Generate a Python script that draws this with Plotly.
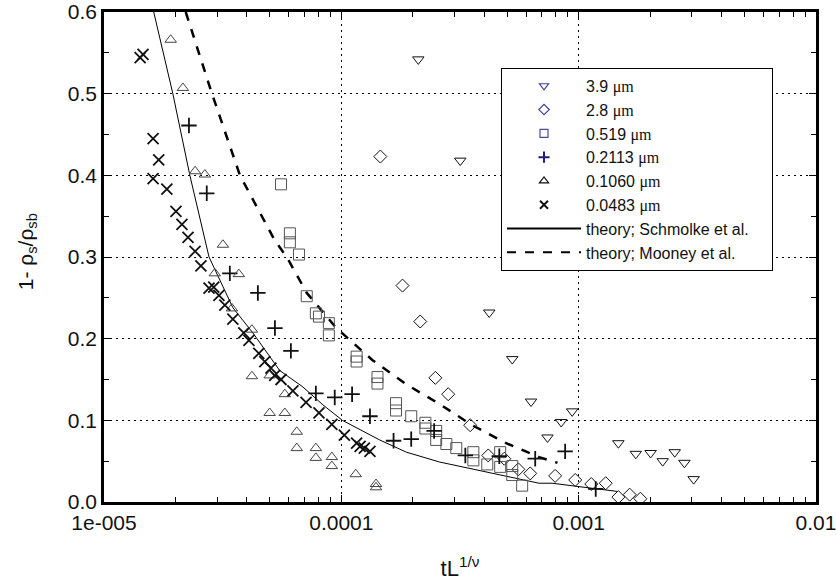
import plotly.graph_objects as go

# ---------------- data ----------------
x_39 = [2.11e-4, 3.17e-4, 4.20e-4, 5.25e-4, 6.30e-4, 9.39e-4, 8.44e-4, 7.39e-4,
        1.47e-3, 1.74e-3, 2.01e-3, 2.26e-3, 2.54e-3, 2.79e-3, 3.05e-3]
y_39 = [0.542, 0.418, 0.232, 0.175, 0.123, 0.111, 0.098, 0.079,
        0.072, 0.059, 0.060, 0.050, 0.061, 0.048, 0.028]

x_28 = [1.46e-4, 1.81e-4, 2.15e-4, 2.49e-4, 2.82e-4, 3.49e-4, 4.16e-4, 4.86e-4,
        5.57e-4, 6.25e-4, 7.96e-4, 9.67e-4, 1.13e-3, 1.30e-3, 1.47e-3, 1.64e-3, 1.82e-3]
y_28 = [0.423, 0.265, 0.221, 0.152, 0.132, 0.094, 0.057, 0.053,
        0.040, 0.035, 0.032, 0.027, 0.022, 0.023, 0.006, 0.009, 0.004]

x_519 = [5.57e-5, 6.07e-5, 6.07e-5, 6.63e-5, 7.15e-5, 7.81e-5, 8.05e-5, 8.86e-5, 8.86e-5,
         1.16e-4, 1.16e-4, 1.42e-4, 1.42e-4, 1.70e-4, 1.70e-4, 1.97e-4, 2.26e-4, 2.26e-4,
         2.51e-4, 2.51e-4, 2.77e-4, 3.05e-4, 3.60e-4, 3.60e-4, 4.12e-4, 4.67e-4, 4.67e-4,
         5.25e-4, 5.25e-4, 5.78e-4]
y_519 = [0.389, 0.329, 0.318, 0.303, 0.252, 0.231, 0.227, 0.219, 0.204,
         0.178, 0.172, 0.153, 0.145, 0.121, 0.112, 0.105, 0.097, 0.090,
         0.087, 0.076, 0.071, 0.066, 0.061, 0.051, 0.046, 0.061, 0.043,
         0.044, 0.033, 0.020]

x_2113 = [2.28e-5, 2.71e-5, 3.39e-5, 4.45e-5, 5.25e-5, 6.13e-5, 7.81e-5, 9.38e-5, 1.11e-4,
          1.32e-4, 1.66e-4, 1.97e-4, 2.46e-4, 3.33e-4, 4.63e-4, 6.56e-4, 8.77e-4, 1.18e-3]
y_2113 = [0.461, 0.378, 0.280, 0.256, 0.213, 0.185, 0.133, 0.128, 0.132,
          0.105, 0.075, 0.077, 0.087, 0.057, 0.056, 0.053, 0.062, 0.016]

x_1060 = [1.91e-5, 2.15e-5, 2.42e-5, 2.66e-5, 3.17e-5, 2.93e-5, 3.70e-5, 3.46e-5, 4.20e-5,
          4.20e-5, 4.99e-5, 5.78e-5, 4.99e-5, 5.78e-5, 6.49e-5, 6.49e-5, 7.81e-5, 7.81e-5,
          9.12e-5, 9.12e-5, 1.15e-4, 1.40e-4, 1.40e-4]
y_1060 = [0.566, 0.507, 0.405, 0.401, 0.315, 0.280, 0.279, 0.237, 0.211,
          0.154, 0.155, 0.132, 0.109, 0.109, 0.086, 0.066, 0.066, 0.054,
          0.055, 0.044, 0.034, 0.022, 0.018]

x_0483 = [1.42e-5, 1.46e-5, 1.61e-5, 1.70e-5, 1.61e-5, 1.84e-5, 2.01e-5, 2.13e-5, 2.26e-5,
          2.42e-5, 2.56e-5, 2.77e-5, 2.90e-5, 3.05e-5, 3.23e-5, 3.49e-5, 3.88e-5, 4.08e-5,
          4.49e-5, 4.76e-5, 5.05e-5, 5.24e-5, 5.57e-5, 6.25e-5, 7.10e-5, 8.05e-5, 9.12e-5,
          1.03e-4, 1.16e-4, 1.20e-4, 1.25e-4, 1.32e-4]
y_0483 = [0.544, 0.548, 0.445, 0.419, 0.396, 0.383, 0.356, 0.340, 0.324,
          0.307, 0.289, 0.262, 0.263, 0.253, 0.241, 0.224, 0.207, 0.198,
          0.182, 0.172, 0.164, 0.155, 0.150, 0.136, 0.122, 0.109, 0.095,
          0.082, 0.072, 0.068, 0.066, 0.062]

x_schmolke = [1.62e-5, 1.95e-5, 2.30e-5, 2.77e-5, 3.49e-5, 4.24e-5, 5.50e-5, 6.88e-5, 8.36e-5,
              1.01e-4, 1.45e-4, 1.88e-4, 2.59e-4, 3.36e-4, 4.63e-4, 6.81e-4, 7.73e-4, 1.08e-3, 1.45e-3]
y_schmolke = [0.600, 0.500, 0.400, 0.300, 0.238, 0.207, 0.161, 0.141, 0.119,
              0.100, 0.076, 0.061, 0.049, 0.042, 0.033, 0.023, 0.023, 0.018, 0.013]

x_mooney = [2.21e-5, 2.85e-5, 3.74e-5, 5.25e-5, 5.89e-5, 7.15e-5, 9.53e-5, 1.35e-4,
            1.88e-4, 2.59e-4, 3.56e-4, 4.95e-4, 6.81e-4, 8.14e-4]
y_mooney = [0.600, 0.500, 0.400, 0.320, 0.300, 0.256, 0.213, 0.174,
            0.144, 0.120, 0.094, 0.072, 0.055, 0.048]

x_tickvals = [1e-5, 1e-4, 1e-3, 1e-2]
x_ticktext = ["1e-005", "0.0001", "0.001", "0.01"]

MU = '<span style="font-family:\'Liberation Serif\'">μm</span>'
series = [
    ("3.9 " + MU, x_39, y_39, "triangle-down-open", "#111111", "#4040a0", 10),
    ("2.8 " + MU, x_28, y_28, "diamond-open", "#111111", "#4040a0", 10),
    ("0.519 " + MU, x_519, y_519, "square-open", "#555555", "#4a4aa0", 11),
    ("0.2113 " + MU, x_2113, y_2113, "cross-thin", "#111111", "#1c1c80", 11),
    ("0.1060 " + MU, x_1060, y_1060, "triangle-up-open", "#444444", "#111111", 10),
    ("0.0483 " + MU, x_0483, y_0483, "x-thin", "#111111", "#111111", 11),
]

fig = go.Figure()

fig.add_trace(go.Scatter(x=x_schmolke, y=y_schmolke, mode="lines",
                         line=dict(color="black", width=1), showlegend=False, hoverinfo="skip"))
fig.add_trace(go.Scatter(x=x_mooney, y=y_mooney, mode="lines",
                         line=dict(color="black", width=2.5, dash="dash"), showlegend=False, hoverinfo="skip"))

for name, xs, ys, sym, col, lcol, sz in series:
    lw = 1.8 if "thin" in sym else 1
    fig.add_trace(go.Scatter(x=xs, y=ys, mode="markers", showlegend=False,
                             marker=dict(symbol=sym, size=sz, color=col,
                                         line=dict(color=col, width=lw))))

# legend-only entries
for name, xs, ys, sym, col, lcol, sz in series:
    lw = 2 if "thin" in sym else 1.2
    fig.add_trace(go.Scatter(x=[None], y=[None], mode="markers", name=name,
                             marker=dict(symbol=sym, size=8, color=lcol,
                                         line=dict(color=lcol, width=lw))))
fig.add_trace(go.Scatter(x=[None], y=[None], mode="lines",
                         name="theory; Schmolke et al.\u00a0\u00a0\u00a0\u00a0",
                         line=dict(color="black", width=2)))
fig.add_trace(go.Scatter(x=[None], y=[None], mode="lines", name="theory; Mooney et al.",
                         line=dict(color="black", width=2, dash="dash")))

FONT = "Liberation Sans, Arial, sans-serif"
GRIDDASH = "2px,4px"

fig.update_layout(
    width=837, height=587,
    margin=dict(l=104, r=21, t=12, b=85),
    paper_bgcolor="white", plot_bgcolor="white",
    font=dict(family=FONT, size=17, color="#111111"),
    showlegend=True,
    legend=dict(x=0.5576, y=0.886, xanchor="left", yanchor="top",
                bgcolor="white", bordercolor="black", borderwidth=1,
                font=dict(family=FONT, size=16, color="#111111"),
                itemwidth=74, tracegroupgap=0),
    xaxis=dict(type="log", range=[-5, -2], automargin=False,
               tickvals=x_tickvals, ticktext=x_ticktext, ticklabeloverflow="allow",
               ticks="inside", ticklen=7, tickcolor="black",
               showline=True, linecolor="black", linewidth=2.5, mirror="allticks",
               showgrid=True, gridcolor="black", gridwidth=1, griddash=GRIDDASH,
               zeroline=False,
               minor=dict(ticks="inside", ticklen=5, tickcolor="black", dtick="D1", showgrid=False),
               tickfont=dict(size=21),
               title=dict(text="tL<sup>1/ν</sup>", font=dict(size=22), standoff=28)),
    yaxis=dict(range=[0, 0.6], dtick=0.1, tickformat=".1f", automargin=False,
               ticklabeloverflow="allow",
               ticks="inside", ticklen=7, tickcolor="black",
               showline=True, linecolor="black", linewidth=2.5, mirror="allticks",
               showgrid=True, gridcolor="black", gridwidth=1, griddash=GRIDDASH,
               zeroline=False,
               minor=dict(ticks="inside", ticklen=5, tickcolor="black", dtick=0.05, showgrid=False),
               tickfont=dict(size=21)),
    annotations=[dict(text="1- ρ<sub>s</sub>/ρ<sub>sb</sub>", textangle=-90,
                      xref="paper", yref="paper", x=-0.108, y=0.51,
                      xanchor="center", yanchor="middle", showarrow=False,
                      font=dict(family=FONT, size=21, color="#111111"))],
)

fig.write_html("out.html", config={"displayModeBar": False},
               post_script="document.body.style.margin='0';")
